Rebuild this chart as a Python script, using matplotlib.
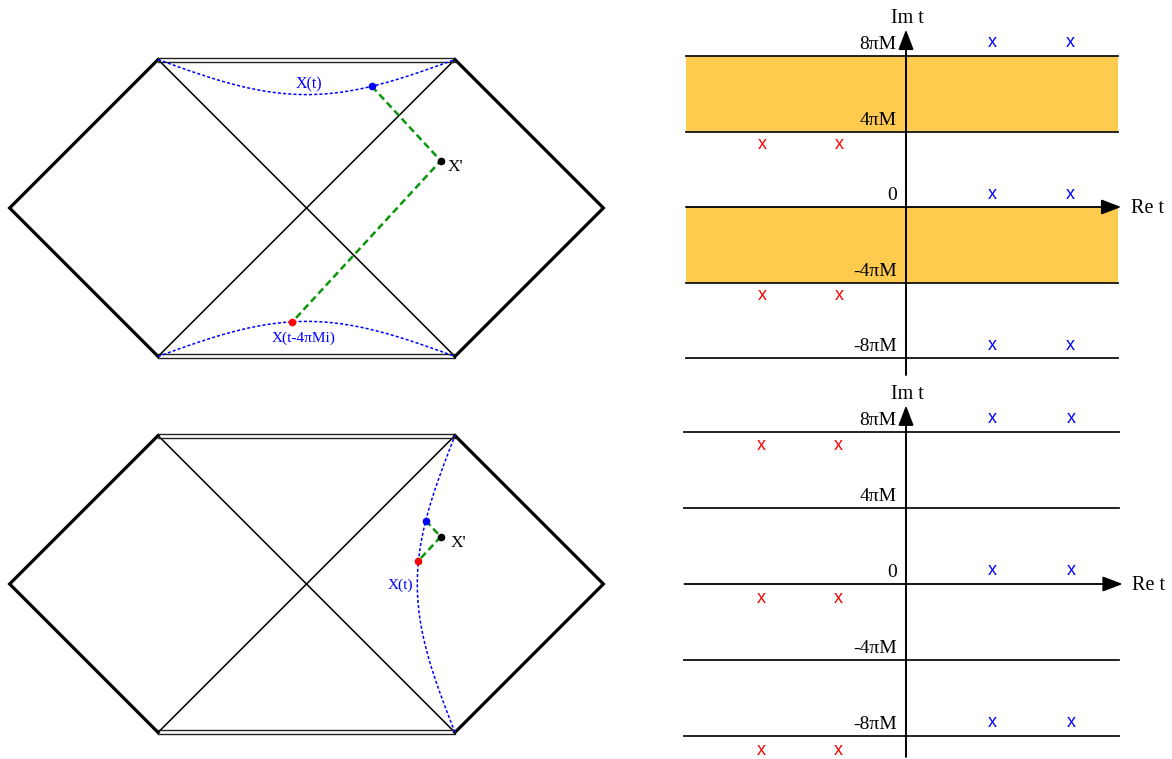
import numpy as np
import matplotlib
matplotlib.use("Agg")
import matplotlib.pyplot as plt

# Penrose diagrams: X, T with singularity at T = +-pi/2
interior_sqrt_c = 0.684      # constant-r surface behind the horizon (UV = c)
exterior_sqrt_c = 0.664      # constant-r surface outside (UV = -c)
x_prime = (1.42, 0.50)       # (X, T) of x'
top_blue_tau = 0.80          # X(t)
top_red_tau = -0.16          # X(t-4piMi)
low_blue_tau = 0.78
low_red_tau = 0.27

# complex t plane, Im t in units of pi*M
im_levels = [8, 4, 0, -4, -8]
im_labels = ["8πM", "4πM", "0", "-4πM", "-8πM"]
shaded_bands = [(4, 8), (-4, 0)]
blue_re = [4.56, 8.69]
red_re = [-7.63, -3.55]
top_blue_im = [8.74, 0.69, -7.31]
top_red_im = [3.31, -4.69]
low_blue_im = [8.74, 0.69, -7.31]
low_red_im = [7.31, -0.74, -8.74]
re_extent = (-11.66, 11.23)

W, H = 1172, 759
SERIF = "Liberation Serif"
BLUE = "#0000ff"
GREEN = "#0a960a"
ORANGE = "#fecb4e"


def add_panel(fig, cx, cy, s, xlim, ylim):
    """axes whose data origin sits at pixel (cx, cy), s pixels per unit"""
    x0 = cx + s * xlim[0]
    x1 = cx + s * xlim[1]
    ytop = cy - s * ylim[1]
    ybot = cy - s * ylim[0]
    ax = fig.add_axes([x0 / W, 1 - ybot / H, (x1 - x0) / W, (ybot - ytop) / H])
    ax.set_xlim(xlim)
    ax.set_ylim(ylim)
    ax.axis("off")
    return ax


def interior_curve(sc, tau, sign=1):
    p = np.arctan(sc * np.exp(tau))
    q = np.arctan(sc * np.exp(-tau))
    return p - q, sign * (p + q)


def exterior_curve(sc, tau):
    p = np.arctan(sc * np.exp(tau))
    q = -np.arctan(sc * np.exp(-tau))
    return p - q, p + q


def draw_penrose(ax):
    h = np.pi / 2
    ax.plot([-h, -np.pi, -h], [h, 0, -h], color="black", lw=2.3, solid_joinstyle="miter")
    ax.plot([h, np.pi, h], [h, 0, -h], color="black", lw=2.3, solid_joinstyle="miter")
    ax.plot([-h, h], [-h, h], color="black", lw=1.1)
    ax.plot([-h, h], [h, -h], color="black", lw=1.1)
    d = 2.0 / 94.5
    for t in (h, -h):
        for off in (-d, d):
            ax.plot([-h, h], [t + off, t + off], color="#222222", lw=1.0)


tau = np.linspace(-9, 9, 800)
fig = plt.figure(figsize=(W / 100, H / 100), dpi=100)

# ---- top Penrose diagram
ax = add_panel(fig, 306.5, 208, 94.5, (-3.3, 3.3), (-1.8, 1.8))
draw_penrose(ax)
cx, ct = interior_curve(interior_sqrt_c, tau)
ax.plot(cx, ct, color=BLUE, lw=1.1, ls=(0, (2, 1.4)))
ax.plot(cx, -ct, color=BLUE, lw=1.1, ls=(0, (2, 1.4)))
bx, bt = interior_curve(interior_sqrt_c, top_blue_tau)
rx, rt = interior_curve(interior_sqrt_c, top_red_tau, sign=-1)
ax.plot([bx, x_prime[0], rx], [bt, x_prime[1], rt], color=GREEN, lw=1.8, ls=(0, (2.8, 1.6)))
ax.plot(bx, bt, "o", color=BLUE, ms=4.5)
ax.plot(rx, rt, "o", color="red", ms=4.5)
ax.plot(*x_prime, "o", color="black", ms=4.5)
ax.text(0.026, 1.312, "X(t)", color=BLUE, family=SERIF, fontsize=11.5, ha="center", va="center")
ax.text(-0.026, -1.376, "X(t-4πMi)", color=BLUE, family=SERIF, fontsize=11, ha="center", va="center")
ax.text(1.49, 0.434, "X'", color="black", family=SERIF, fontsize=12.5, ha="left", va="center")

# ---- lower Penrose diagram
ax = add_panel(fig, 306.5, 584, 94.5, (-3.3, 3.3), (-1.8, 1.8))
draw_penrose(ax)
cx, ct = exterior_curve(exterior_sqrt_c, tau)
ax.plot(cx, ct, color=BLUE, lw=1.1, ls=(0, (2, 1.4)))
bx, bt = exterior_curve(exterior_sqrt_c, low_blue_tau)
rx, rt = exterior_curve(exterior_sqrt_c, low_red_tau)
ax.plot([bx, x_prime[0], rx], [bt, x_prime[1], rt], color=GREEN, lw=1.8, ls=(0, (2.8, 1.6)))
ax.plot(bx, bt, "o", color=BLUE, ms=4.5)
ax.plot(rx, rt, "o", color="red", ms=4.5)
ax.plot(*x_prime, "o", color="black", ms=4.5)
ax.text(0.99, -0.011, "X(t)", color=BLUE, family=SERIF, fontsize=11, ha="center", va="center")
ax.text(1.52, 0.434, "X'", color="black", family=SERIF, fontsize=12.5, ha="left", va="center")


# ---- complex t planes
def draw_tplane(ax, bands, blue_im, red_im, axis_bottom, s):
    for lo, hi in bands:
        ax.fill_between(list(re_extent), lo, hi, color=ORANGE, lw=0)
    for lev, lab in zip(im_levels, im_labels):
        if lev != 0:
            ax.plot(list(re_extent), [lev, lev], color="#111111", lw=1.3)
        ax.text(-0.5, lev + 0.35, lab, family=SERIF, fontsize=14, ha="right", va="baseline")
    head = "-|>,head_length=1.1,head_width=0.42"
    ax.annotate("", xy=(11.4, 0), xytext=(re_extent[0], 0),
                arrowprops=dict(arrowstyle=head, mutation_scale=11, lw=1.3,
                                color="black", shrinkA=0, shrinkB=0))
    ax.annotate("", xy=(0, 9.4), xytext=(0, axis_bottom),
                arrowprops=dict(arrowstyle=head, mutation_scale=11, lw=1.4,
                                color="black", shrinkA=0, shrinkB=0))
    ax.text(11.9, -0.32, "Re t", family=SERIF, fontsize=14.5, ha="left", va="baseline")
    ax.text(0.05, 9.74, "Im t", family=SERIF, fontsize=14.5, ha="center", va="baseline")
    # poles drawn as the letter x, baseline about half an x-height below the centre
    drop = 4.6 / s
    for re in blue_re:
        for im in blue_im:
            ax.text(re, im - drop, "x", color=BLUE, family="Liberation Sans",
                    fontsize=13, ha="center", va="baseline")
    for re in red_re:
        for im in red_im:
            ax.text(re, im - drop, "x", color="red", family="Liberation Sans",
                    fontsize=13, ha="center", va="baseline")


ax = add_panel(fig, 906, 207, 18.875, (-12.5, 14), (-10.5, 11))
draw_tplane(ax, shaded_bands, top_blue_im, top_red_im, -8.9, 18.875)

ax = add_panel(fig, 906, 584, 19.0, (-12.5, 14), (-9.8, 11))
draw_tplane(ax, [], low_blue_im, low_red_im, -9.1, 19.0)

fig.savefig("out.png", dpi=100)
